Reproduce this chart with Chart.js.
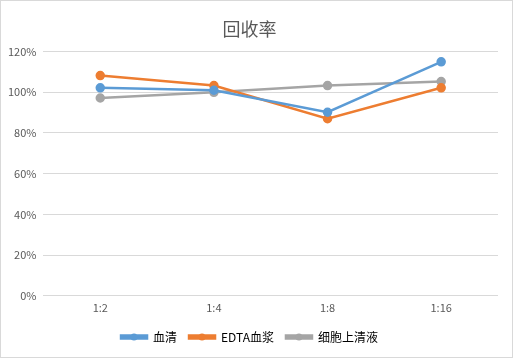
<!DOCTYPE html>
<html><head><meta charset="utf-8">
<script src="https://cdn.jsdelivr.net/npm/chart.js@4/dist/chart.umd.min.js"></script>
<style>
html,body{margin:0;padding:0;background:#fff;}
#wrap{width:513px;height:358px;box-sizing:border-box;border:1px solid #d9d9d9;position:relative;}
canvas{display:block;}
</style></head>
<body><div id="wrap"><canvas id="c" width="511" height="356"></canvas></div>
<script>
const categories = ['1:2','1:4','1:8','1:16'];
const serum = [1.022, 1.01, 0.902, 1.15];
const edtaPlasma = [1.082, 1.033, 0.87, 1.022];
const supernatant = [0.972, 1.0, 1.033, 1.053];
const seriesNames = ['血清','EDTA血浆','细胞上清液'];
const yTicks = [0,0.2,0.4,0.6,0.8,1.0,1.2];
const colors = ['#5B9BD5','#ED7D31','#A5A5A5'];
const font = "'Noto Sans CJK SC', 'Noto Sans', sans-serif";

const mk = (label,data,color)=>({label,data,borderColor:color,backgroundColor:color,borderWidth:2.5,pointRadius:3.5,pointHoverRadius:3.5,pointBackgroundColor:color,pointBorderColor:color,tension:0});

const legendDot = {
  id:'legendDot',
  afterDraw(chart){
    const lg = chart.legend; if(!lg||!lg.legendHitBoxes) return;
    const ctx = chart.ctx;
    lg.legendHitBoxes.forEach((b,i)=>{
      const cx = b.left + 13, cy = b.top + b.height/2;
      ctx.save(); ctx.fillStyle = colors[i]; ctx.beginPath(); ctx.arc(cx,cy,3.5,0,Math.PI*2); ctx.fill(); ctx.restore();
    });
  }
};

new Chart(document.getElementById('c'),{
  type:'line',
  data:{labels:categories,datasets:[mk(seriesNames[0],serum,colors[0]),mk(seriesNames[1],edtaPlasma,colors[1]),mk(seriesNames[2],supernatant,colors[2])]},
  options:{
    responsive:false,animation:false,
    layout:{padding:{left:0,right:14,top:8,bottom:4}},
    plugins:{
      title:{display:true,text:'回收率',color:'#595959',font:{family:font,size:18,weight:'normal'},padding:{top:9,bottom:12}},
      legend:{position:'bottom',labels:{color:'#000',font:{family:font,size:12},boxWidth:26,boxHeight:3,padding:12}},
      tooltip:{enabled:false}
    },
    scales:{
      x:{offset:true,grid:{display:false,drawTicks:false},border:{display:false},ticks:{color:'#595959',font:{family:font,size:11},padding:5}},
      y:{min:0,max:1.2,afterBuildTicks(a){a.ticks=yTicks.map(v=>({value:v}));},grid:{color:'#d9d9d9',drawTicks:false},border:{display:false},
         ticks:{color:'#595959',font:{family:font,size:11},padding:7,callback:v=>Math.round(v*100)+'%'}}
    }
  },
  plugins:[legendDot]
});
</script></body></html>
